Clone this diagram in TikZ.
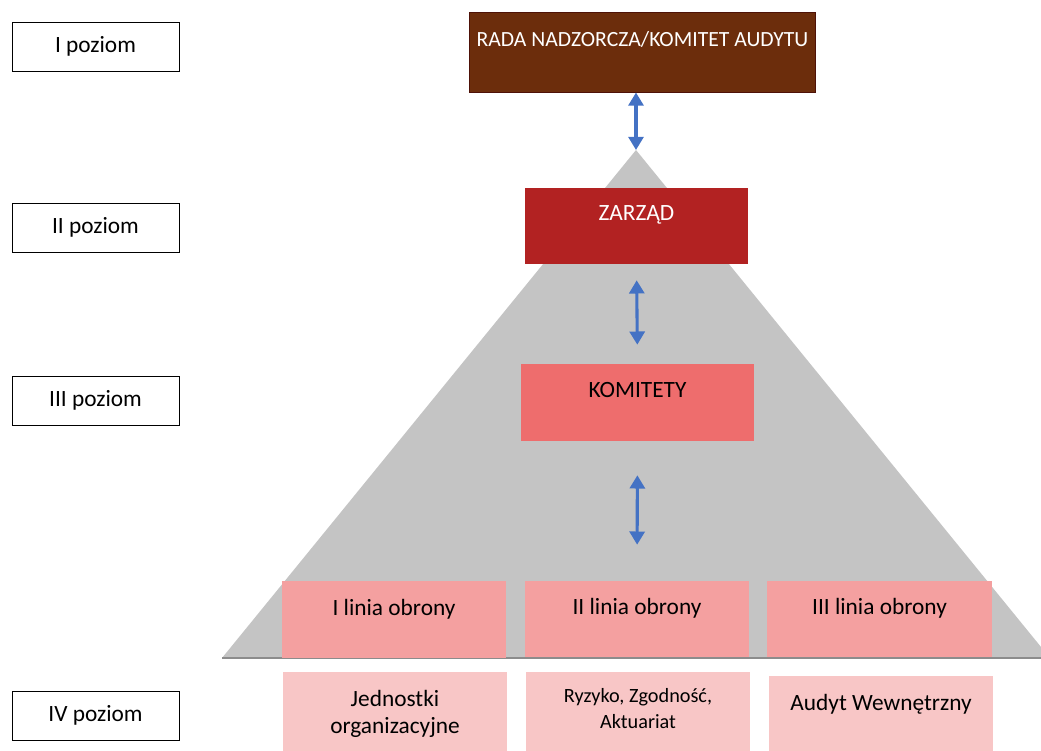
\documentclass[tikz,border=0pt]{standalone}
\usepackage{fontspec}
\setmainfont{Carlito}
\usetikzlibrary{arrows.meta}
\definecolor{radabrown}{HTML}{6C2D0C}
\definecolor{radaedge}{HTML}{4E1208}
\definecolor{zarzadred}{HTML}{B22222}
\definecolor{komitetred}{HTML}{EE6D6D}
\definecolor{liniapink}{HTML}{F4A0A0}
\definecolor{jednpink}{HTML}{F8C6C6}
\definecolor{pyramid}{HTML}{C4C4C4}
\definecolor{arrowblue}{HTML}{4472C4}
\begin{document}
\begin{tikzpicture}[x=0.025cm, y=-0.025cm,
            font=\fontsize{16.6}{19}\selectfont,
            poziom/.style={rectangle, draw=black, line width=0.6pt, fill=white, minimum width=4.175cm, minimum height=1.225cm},
            rada/.style={rectangle, draw=radaedge, line width=0.7pt, fill=radabrown, minimum width=8.625cm, minimum height=2cm},
            zarzad/.style={rectangle, fill=zarzadred, minimum width=5.575cm, minimum height=1.9cm},
            komitet/.style={rectangle, fill=komitetred, minimum width=5.825cm, minimum height=1.925cm},
            linia/.style={rectangle, fill=liniapink, minimum width=5.6cm, minimum height=1.9cm},
            jedn/.style={rectangle, fill=jednpink, minimum width=5.6cm, minimum height=2.25cm, anchor=north},
            dblarrow/.style={arrowblue, line width=2.2pt, {Triangle[width=0.375cm, length=0.33cm]}-{Triangle[width=0.375cm, length=0.33cm]}},
        ]
            \useasboundingbox (0,0) rectangle (1041,751);
            % pyramid
            \coordinate (apex) at (636,150);
            \fill[pyramid] (222,658) -- (apex) -- (1050,658) -- cycle;
            \draw[gray!90, line width=0.8pt] (222,658) -- (1041,658);
            % levels on the left
            \node[poziom](poz1) at (95.5,46.5) {I poziom};
            \node[poziom](poz2) at (95.5,227.5) {II poziom};
            \node[poziom](poz3) at (95.5,400.5) {III poziom};
            \node[poziom](poz4) at (95.5,715.5) {IV poziom};
            % boxes
            \node[rada](radanode) at (642.5,52) [label={[anchor=center, yshift=-0.7cm, text=white, font=\fontsize{15.4}{19}\selectfont]north:RADA NADZORCZA/KOMITET AUDYTU}] {};
            \node[zarzad](zarzadnode) at (636.5,226) [label={[anchor=center, yshift=-0.675cm, text=white]north:ZARZĄD}] {};
            \node[komitet](komitetnode) at (637.5,402.5) [label={[anchor=center, yshift=-0.65cm]north:KOMITETY}] {};
            \node[linia](linia1) at (394,619.5) [label={[anchor=center, yshift=-0.7cm]north:I linia obrony}] {};
            \node[linia](linia2) at (637,619) [label={[anchor=center, yshift=-0.7cm]north:II linia obrony}] {};
            \node[linia](linia3) at (879.5,619) [label={[anchor=center, yshift=-0.7cm]north:III linia obrony}] {};
            \node[jedn](jedn1) at (395,672) [label={[anchor=center, yshift=-1.04cm, align=center, font=\fontsize{16.6}{19}\selectfont]north:Jednostki\\organizacyjne}] {};
            \node[jedn](jedn2) at (638,672) [label={[anchor=center, yshift=-0.91cm, align=center, font=\fontsize{14.4}{19}\selectfont]north:Ryzyko, Zgodność,\\Aktuariat}] {};
            \node[jedn](jedn3) at (881,676) [label={[anchor=center, yshift=-0.7cm]north:Audyt Wewnętrzny}] {};
            % arrows
            \draw[dblarrow] (apex |- radanode.south) -- (apex);
            \draw[dblarrow, shorten <=0.4cm, shorten >=0.475cm] (zarzadnode.south) -- (komitetnode.north);
            \draw[dblarrow, shorten <=0.85cm, shorten >=0.9cm] (komitetnode.south) -- (linia2.north);
        \end{tikzpicture}
\end{document}
